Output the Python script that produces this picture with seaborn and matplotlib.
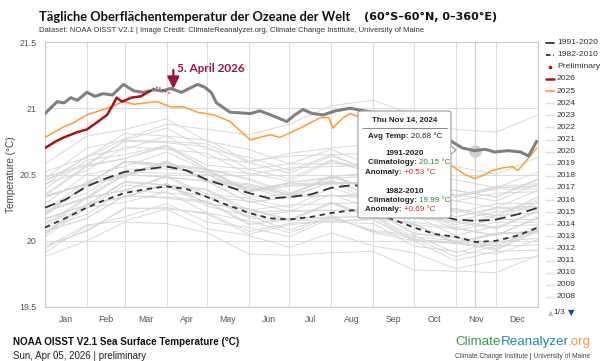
import matplotlib
matplotlib.use("Agg")
import numpy as np
import pandas as pd
import matplotlib.pyplot as plt
import seaborn as sns
from matplotlib.lines import Line2D
from matplotlib.patches import FancyBboxPatch, Polygon

W, H = 605, 361

# x axis: day of year, month boundaries and labels
month_names = ["Jan", "Feb", "Mar", "Apr", "May", "Jun",
               "Jul", "Aug", "Sep", "Oct", "Nov", "Dec"]
month_starts = [0, 31, 59, 90, 120, 151, 181, 212, 243, 273, 304, 334, 365]

# background years 1982-2023, values at the first of each month (+ Dec 31)
past_years = list(range(1982, 2024))
past_sst = [
    [19.95, 20.08, 20.24, 20.25, 20.20, 20.05, 20.12, 20.15, 20.16, 20.00, 19.98, 19.96, 20.10],
    [20.14, 20.25, 20.42, 20.40, 20.33, 20.17, 20.16, 20.14, 20.13, 19.96, 19.92, 19.90, 20.01],
    [19.95, 20.12, 20.15, 20.24, 20.09, 20.04, 19.95, 20.06, 19.96, 19.91, 19.79, 19.85, 19.88],
    [19.88, 20.00, 20.14, 20.13, 20.06, 19.90, 19.89, 19.91, 19.92, 19.78, 19.77, 19.76, 19.89],
    [19.91, 20.11, 20.18, 20.28, 20.14, 20.10, 20.03, 20.17, 20.08, 20.04, 19.91, 19.99, 20.02],
    [20.09, 20.20, 20.38, 20.36, 20.34, 20.18, 20.22, 20.23, 20.23, 20.05, 20.02, 19.96, 20.08],
    [20.05, 20.28, 20.33, 20.42, 20.26, 20.19, 20.08, 20.19, 20.06, 20.00, 19.85, 19.92, 19.93],
    [19.97, 20.07, 20.25, 20.24, 20.21, 20.07, 20.13, 20.15, 20.16, 20.00, 19.98, 19.93, 20.07],
    [20.05, 20.27, 20.33, 20.43, 20.28, 20.24, 20.16, 20.29, 20.18, 20.13, 19.98, 20.05, 20.06],
    [20.07, 20.17, 20.34, 20.32, 20.29, 20.12, 20.16, 20.17, 20.19, 20.03, 20.00, 19.96, 20.09],
    [20.03, 20.25, 20.29, 20.37, 20.21, 20.15, 20.06, 20.18, 20.07, 20.02, 19.88, 19.96, 19.97],
    [20.07, 20.17, 20.34, 20.33, 20.30, 20.13, 20.17, 20.18, 20.18, 20.01, 19.99, 19.94, 20.08],
    [20.05, 20.28, 20.33, 20.43, 20.28, 20.24, 20.16, 20.29, 20.18, 20.13, 19.99, 20.06, 20.07],
    [20.16, 20.27, 20.45, 20.42, 20.38, 20.21, 20.23, 20.23, 20.23, 20.06, 20.03, 19.98, 20.11],
    [20.06, 20.28, 20.33, 20.43, 20.28, 20.24, 20.15, 20.28, 20.17, 20.12, 19.98, 20.05, 20.07],
    [20.22, 20.33, 20.52, 20.51, 20.50, 20.37, 20.44, 20.48, 20.52, 20.37, 20.35, 20.30, 20.43],
    [20.39, 20.61, 20.65, 20.72, 20.54, 20.46, 20.34, 20.44, 20.30, 20.24, 20.08, 20.14, 20.14],
    [20.17, 20.27, 20.44, 20.42, 20.39, 20.23, 20.27, 20.28, 20.29, 20.12, 20.09, 20.04, 20.18],
    [20.12, 20.33, 20.38, 20.48, 20.33, 20.30, 20.22, 20.35, 20.24, 20.19, 20.04, 20.11, 20.12],
    [20.22, 20.32, 20.50, 20.48, 20.45, 20.29, 20.33, 20.34, 20.35, 20.18, 20.15, 20.10, 20.23],
    [20.19, 20.42, 20.48, 20.59, 20.45, 20.41, 20.34, 20.48, 20.38, 20.33, 20.18, 20.25, 20.26],
    [20.33, 20.43, 20.60, 20.57, 20.53, 20.37, 20.41, 20.43, 20.44, 20.27, 20.24, 20.19, 20.31],
    [20.23, 20.45, 20.50, 20.60, 20.44, 20.40, 20.32, 20.45, 20.34, 20.29, 20.15, 20.22, 20.24],
    [20.33, 20.43, 20.60, 20.58, 20.54, 20.38, 20.43, 20.44, 20.44, 20.27, 20.23, 20.17, 20.29],
    [20.21, 20.43, 20.49, 20.60, 20.45, 20.42, 20.35, 20.49, 20.39, 20.35, 20.21, 20.28, 20.28],
    [20.34, 20.43, 20.59, 20.56, 20.51, 20.33, 20.35, 20.34, 20.32, 20.14, 20.10, 20.04, 20.17],
    [20.10, 20.32, 20.38, 20.49, 20.35, 20.32, 20.25, 20.40, 20.30, 20.26, 20.12, 20.19, 20.21],
    [20.25, 20.36, 20.54, 20.54, 20.52, 20.38, 20.44, 20.47, 20.49, 20.33, 20.30, 20.25, 20.38],
    [20.35, 20.57, 20.62, 20.71, 20.54, 20.47, 20.36, 20.46, 20.33, 20.26, 20.10, 20.16, 20.16],
    [20.22, 20.32, 20.50, 20.48, 20.45, 20.29, 20.33, 20.34, 20.34, 20.17, 20.14, 20.09, 20.22],
    [20.20, 20.43, 20.49, 20.60, 20.46, 20.43, 20.35, 20.49, 20.38, 20.33, 20.18, 20.24, 20.25],
    [20.33, 20.43, 20.60, 20.58, 20.54, 20.38, 20.42, 20.43, 20.44, 20.27, 20.24, 20.19, 20.33],
    [20.28, 20.50, 20.56, 20.67, 20.53, 20.51, 20.45, 20.60, 20.51, 20.47, 20.33, 20.40, 20.41],
    [20.48, 20.58, 20.76, 20.75, 20.73, 20.59, 20.66, 20.70, 20.73, 20.58, 20.56, 20.50, 20.63],
    [20.58, 20.79, 20.84, 20.92, 20.75, 20.69, 20.58, 20.69, 20.56, 20.49, 20.33, 20.39, 20.39],
    [20.46, 20.57, 20.75, 20.74, 20.71, 20.54, 20.58, 20.58, 20.58, 20.41, 20.38, 20.33, 20.46],
    [20.34, 20.56, 20.62, 20.72, 20.57, 20.54, 20.47, 20.61, 20.52, 20.48, 20.34, 20.41, 20.43],
    [20.52, 20.63, 20.81, 20.79, 20.76, 20.60, 20.64, 20.65, 20.66, 20.49, 20.46, 20.40, 20.52],
    [20.47, 20.70, 20.76, 20.85, 20.69, 20.63, 20.53, 20.65, 20.52, 20.46, 20.30, 20.36, 20.37],
    [20.43, 20.53, 20.71, 20.69, 20.66, 20.50, 20.55, 20.56, 20.57, 20.41, 20.38, 20.33, 20.47],
    [20.42, 20.64, 20.69, 20.79, 20.63, 20.59, 20.51, 20.64, 20.53, 20.48, 20.33, 20.40, 20.41],
    [20.45, 20.63, 20.77, 20.88, 20.84, 20.80, 20.88, 21.02, 21.06, 20.95, 20.84, 20.82, 20.95],
]

# climatologies
clim_days = [0, 15, 31, 45, 59, 75, 90, 105, 120, 135, 151, 166, 181, 197,
             212, 228, 243, 258, 273, 289, 304, 319, 334, 350, 365]
clim_9120 = [20.25, 20.31, 20.41, 20.47, 20.52, 20.54, 20.56, 20.53, 20.46, 20.41,
             20.36, 20.32, 20.33, 20.35, 20.40, 20.42, 20.40, 20.33, 20.26, 20.20,
             20.16, 20.15, 20.16, 20.20, 20.25]
clim_8210 = [20.10, 20.17, 20.25, 20.31, 20.36, 20.39, 20.41, 20.39, 20.33, 20.27,
             20.21, 20.17, 20.16, 20.18, 20.21, 20.23, 20.21, 20.16, 20.10, 20.05,
             20.03, 19.99, 20.00, 20.04, 20.10]

# 2024 (highlighted by hover)
days_2024 = [0, 9, 14, 19, 24, 31, 37, 43, 50, 58, 66, 73, 81, 87, 93, 101, 107, 113,
             118, 123, 127, 137, 152, 159, 167, 179, 185, 191, 198, 206, 215, 226, 231,
             248, 268, 287, 301, 309, 318, 326, 333, 343, 352, 358, 364]
sst_2024 = [20.96, 21.05, 21.04, 21.08, 21.06, 21.12, 21.09, 21.11, 21.10, 21.18, 21.13,
            21.12, 21.14, 21.13, 21.15, 21.12, 21.15, 21.18, 21.16, 21.12, 21.04, 20.97,
            20.96, 20.98, 20.95, 20.90, 20.95, 20.99, 20.96, 20.95, 20.98, 21.00, 20.99,
            20.96, 20.88, 20.80, 20.75, 20.70, 20.68, 20.69, 20.67, 20.68, 20.67, 20.64,
            20.75]

# 2025
days_2025 = [0, 7, 14, 21, 31, 40, 49, 58, 66, 74, 83, 93, 103, 113, 125, 137, 152, 159,
             167, 174, 189, 204, 210, 213, 221, 226, 231, 250, 270, 290, 302, 311, 318,
             326, 331, 339, 346, 350, 356, 361, 364]
sst_2025 = [20.78, 20.82, 20.86, 20.89, 20.95, 20.98, 21.01, 21.05, 21.03, 21.04, 21.05,
            21.01, 21.01, 20.97, 20.95, 20.90, 20.76, 20.78, 20.80, 20.78, 20.85, 20.93,
            20.93, 20.85, 20.93, 20.96, 20.94, 20.85, 20.72, 20.60, 20.56, 20.50, 20.47,
            20.50, 20.53, 20.55, 20.56, 20.53, 20.60, 20.66, 20.70]

# 2026, final and preliminary
days_2026 = [0, 8, 14, 19, 24, 31, 38, 46, 51, 53, 57, 64, 71, 76, 78]
sst_2026 = [20.70, 20.75, 20.78, 20.80, 20.82, 20.84, 20.89, 20.95, 21.04, 21.08, 21.05,
            21.08, 21.09, 21.12, 21.13]
days_prelim = [78, 80, 84, 87, 90, 94]
sst_prelim = [21.13, 21.15, 21.16, 21.14, 21.12, 21.11]

hover_day, hover_temp = 318, 20.68
latest_day = 94

legend_labels = ["1991-2020", "1982-2010", "Preliminary", "2026", "2025"] + \
    [str(y) for y in range(2024, 2007, -1)]

sns.set_theme(style="white")
plt.rcParams["font.family"] = ["Liberation Sans", "DejaVu Sans"]

fig = plt.figure(figsize=(W / 100, H / 100), dpi=100)
ax = fig.add_axes([45 / W, 1 - 307 / H, (538 - 45) / W, (307 - 42) / H])


def fx(x):
    return x / W


def fy(y):
    return 1 - y / H


# background years
rows = []
for yr, vals in zip(past_years, past_sst):
    for d, v in zip(month_starts, vals):
        rows.append((yr, d, v))
past_df = pd.DataFrame(rows, columns=["year", "day", "sst"])
sns.lineplot(data=past_df, x="day", y="sst", units="year", estimator=None,
             color="#d6d6d6", lw=0.65, ax=ax, legend=False, zorder=2)

sns.lineplot(x=clim_days, y=clim_8210, ax=ax, color="#333333", lw=1.3,
             linestyle=(0, (3, 2.5)), zorder=3)
sns.lineplot(x=clim_days, y=clim_9120, ax=ax, color="#333333", lw=1.3,
             linestyle=(0, (6, 3)), zorder=3)

ax.axvline(hover_day, color="#cccccc", lw=0.8, zorder=1)
ax.plot(hover_day, hover_temp, "o", ms=8, color="#cfcfcf", zorder=3)

sns.lineplot(x=days_2025, y=sst_2025, ax=ax, color="#ff9b2f", lw=1.1, zorder=4)
sns.lineplot(x=days_2024, y=sst_2024, ax=ax, color="#808080", lw=2.2, zorder=5)
sns.lineplot(x=days_2026, y=sst_2026, ax=ax, color="#b0101a", lw=1.8, zorder=6)
sns.lineplot(x=days_prelim, y=sst_prelim, ax=ax, color="#c0101a", lw=1.0,
             linestyle=(0, (1, 1.5)), zorder=6)

# axes styling
ax.set_xlim(0, 365)
ax.set_ylim(19.5, 21.5)
ax.set_xticks(month_starts)
ax.set_xticklabels([])
ax.set_xticks([(a + b) / 2 for a, b in zip(month_starts[:-1], month_starts[1:])], minor=True)
ax.set_xticklabels(month_names, minor=True)
ax.set_yticks([19.5, 20, 20.5, 21, 21.5])
ax.set_yticklabels(["19.5", "20", "20.5", "21", "21.5"])
ax.tick_params(axis="both", which="both", length=0, labelsize=6.3, labelcolor="#555555")
ax.tick_params(axis="x", which="minor", pad=6)
ax.tick_params(axis="y", pad=6)
ax.grid(True, which="major", color="#dddddd", lw=0.8)
ax.set_axisbelow(True)
for s in ax.spines.values():
    s.set_color("#cccccc")
    s.set_linewidth(0.8)
ax.set_xlabel("")
ax.set_ylabel("")
fig.text(fx(11), fy(175), "Temperature (°C)", rotation=90, ha="center", va="center",
         fontsize=7.2, color="#444444")

# latest-day marker
ax.annotate("", xy=(latest_day + 1, 21.125), xytext=(latest_day + 1, 21.31),
            arrowprops=dict(arrowstyle="-|>,head_width=0.3,head_length=0.6",
                            color="#9e1240", lw=1.6), zorder=8)
ax.text(latest_day + 4, 21.30, "5. April 2026", color="#9e1240", fontsize=8.5,
        fontweight="bold", family=["Lato", "DejaVu Sans"], va="center", ha="left", zorder=8)

# titles
fig.text(fx(39), fy(17), "Tägliche Oberflächentemperatur der Ozeane der Welt",
         fontsize=9.3, fontweight="bold", family=["Lato", "DejaVu Sans"], va="center",
         color="#111111")
fig.text(fx(364), fy(17), "(60°S–60°N, 0–360°E)", fontsize=8, fontweight="bold",
         family=["DejaVu Sans"], va="center", color="#111111")
fig.text(fx(39), fy(30), "Dataset: NOAA OISST V2.1 | Image Credit: ClimateReanalyzer.org, "
         "Climate Change Institute, University of Maine", fontsize=5.5, va="center",
         color="#333333")

# footer
fig.text(fx(13), fy(342), "NOAA OISST V2.1 Sea Surface Temperature (°C)", fontsize=7.1,
         fontweight="bold", va="center", color="#111111")
fig.text(fx(13), fy(356), "Sun, Apr 05, 2026 | preliminary", fontsize=7.0, va="center",
         color="#222222")
t1 = fig.text(fx(455), fy(342), "Climate", fontsize=9.6, va="center", color="#3a9a4c")
t2 = fig.add_artist(plt.Annotation("Reanalyzer", xy=(1, 0), xycoords=t1, va="bottom",
                                   fontsize=9.6, color="#2389ad"))
fig.add_artist(plt.Annotation(".org", xy=(1, 0), xycoords=t2, xytext=(-0.8, 0),
                              textcoords="offset points", va="bottom",
                              fontsize=9.6, color="#f39a2e"))
fig.text(fx(523), fy(357), "Climate Change Institute | University of Maine", fontsize=4.8,
         ha="center", va="center", color="#444444")

# legend
for i, lab in enumerate(legend_labels):
    y = fy(42.7 + i * 12.1)
    if lab == "1991-2020":
        fig.add_artist(Line2D([fx(546), fx(554)], [y, y], color="#333333", lw=1.3))
    elif lab == "1982-2010":
        fig.add_artist(Line2D([fx(546), fx(554)], [y, y], color="#333333", lw=1.3,
                              linestyle=(0, (2.5, 1.5))))
    elif lab == "Preliminary":
        fig.add_artist(Line2D([fx(550)], [y], color="#c0101a", marker="o", ms=1.6, lw=0))
    elif lab == "2026":
        fig.add_artist(Line2D([fx(546), fx(554)], [y, y], color="#b0101a", lw=1.8))
    elif lab == "2025":
        fig.add_artist(Line2D([fx(546), fx(554)], [y, y], color="#ffab55", lw=1.6))
    else:
        fig.add_artist(Line2D([fx(546), fx(554)], [y, y], color="#dddddd", lw=1.0))
    fig.text(fx(557), y, lab, fontsize=6.1, va="center", color="#333333")
fig.text(fx(548), fy(313), "▲", fontsize=5, va="center", color="#bbbbbb",
         family="DejaVu Sans")
fig.text(fx(553), fy(312), "1/3", fontsize=6.1, va="center", color="#333333")
fig.text(fx(568), fy(313), "▼", fontsize=6, va="center", color="#1c3d9e",
         family="DejaVu Sans")

# tooltip
box = FancyBboxPatch((fx(358), fy(218)), fx(451) - fx(358), fy(111) - fy(218),
                     boxstyle="round,pad=0,rounding_size=0.006", transform=fig.transFigure,
                     facecolor="white", edgecolor="#999999", lw=0.8, zorder=10)
fig.add_artist(box)
fig.add_artist(Polygon([(fx(451), fy(146)), (fx(456), fy(150)), (fx(451), fy(154))],
                       closed=False, transform=fig.transFigure, facecolor="white",
                       edgecolor="#999999", lw=0.8, zorder=11))
fig.add_artist(Line2D([fx(362), fx(447)], [fy(127.7), fy(127.7)], color="#777777",
                      lw=0.6, zorder=12))
tip_kw = dict(fontsize=5.8, va="center", zorder=12, color="#222222")
fig.text(fx(404.5), fy(120), "Thu Nov 14, 2024", ha="center", fontweight="bold", **tip_kw)
fig.text(fx(404.5), fy(154), "1991-2020", ha="center", fontweight="bold", **tip_kw)
fig.text(fx(404.5), fy(191.7), "1982-2010", ha="center", fontweight="bold", **tip_kw)
tip_rows = [
    (136.7, 411, "Avg Temp:", "20.68 °C", "#222222"),
    (162.3, 419, "Climatology:", "20.15 °C", "#2e7d32"),
    (172.7, 404, "Anomaly:", "+0.53 °C", "#c62828"),
    (200.0, 419, "Climatology:", "19.99 °C", "#2e7d32"),
    (209.3, 404, "Anomaly:", "+0.69 °C", "#c62828"),
]
for ty, tx, lab, val, col in tip_rows:
    fig.text(fx(tx), fy(ty), lab + " ", ha="right", fontweight="bold", **tip_kw)
    kw = dict(tip_kw)
    kw["color"] = col
    fig.text(fx(tx), fy(ty), val, ha="left", **kw)

fig.savefig("out.png", dpi=100)
